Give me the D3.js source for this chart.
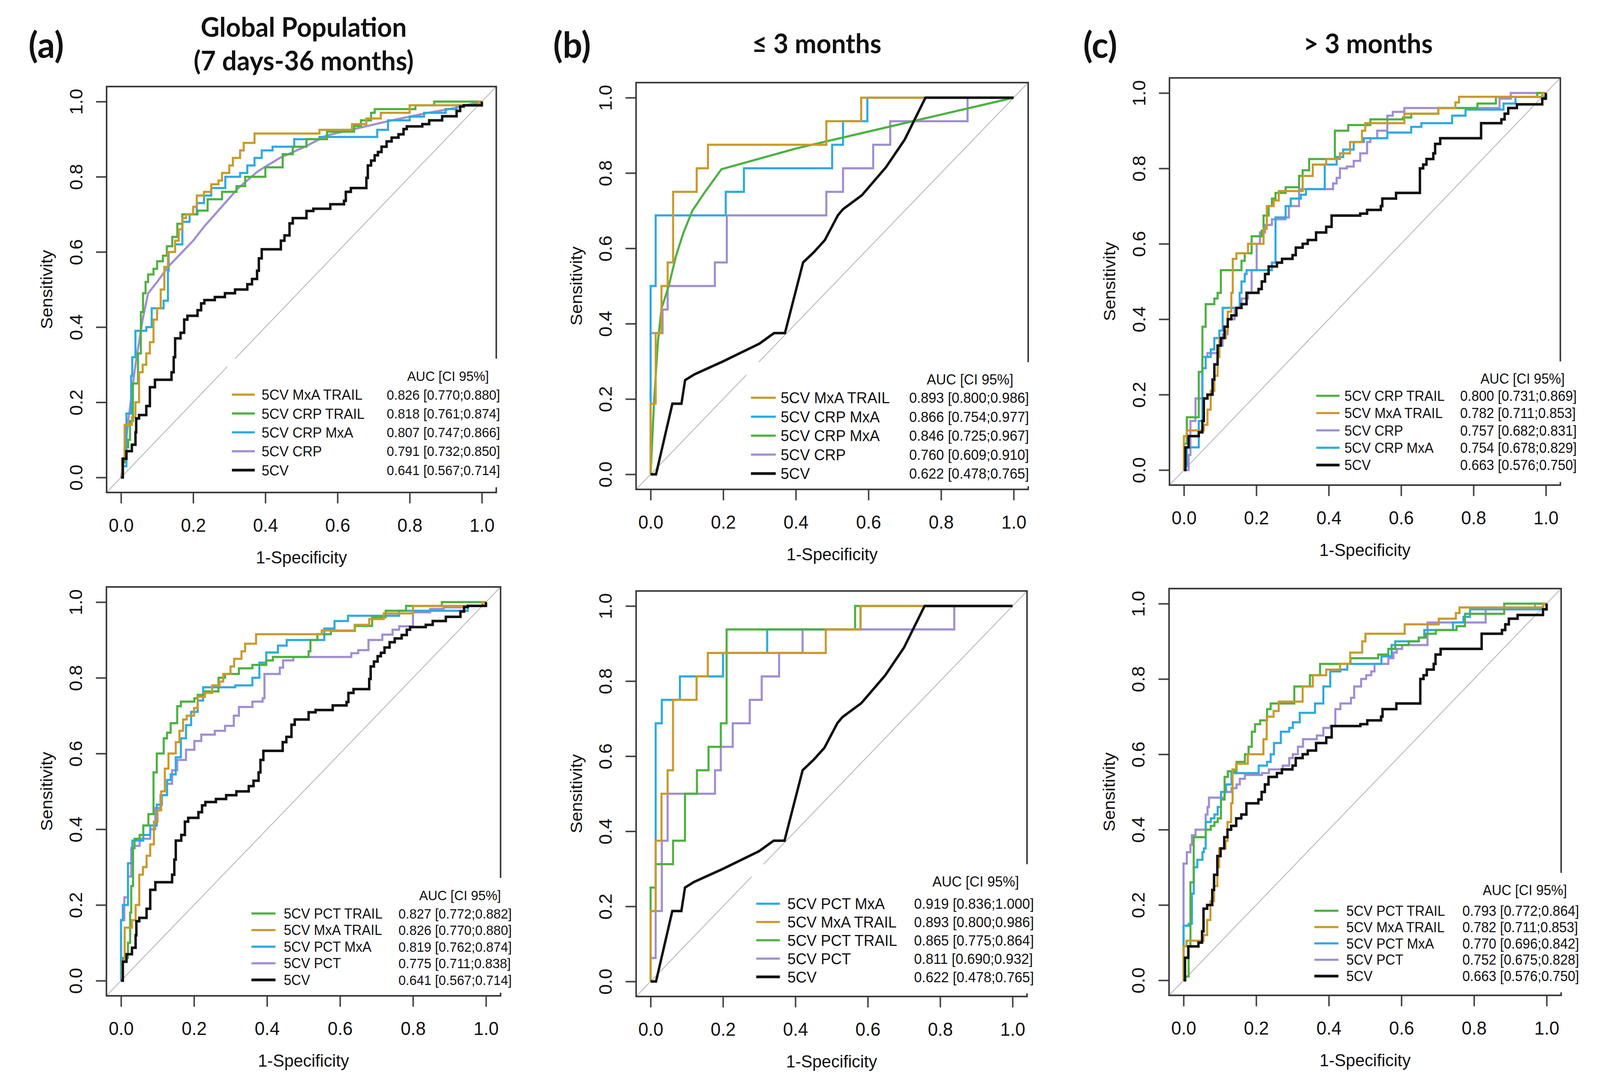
<!DOCTYPE html>
<html>
<head>
<meta charset="utf-8">
<script src="https://cdn.jsdelivr.net/npm/d3@7/dist/d3.min.js"></script>
<style>
  html, body { margin: 0; padding: 0; width: 100%; height: 100%; overflow: hidden; background: #fff; }
  #fig { display: block; width: 100vw; height: 100vh; }
  text { font-family: "Liberation Sans", Arial, sans-serif; fill: #111; }
  .ttl { font-family: Lato, "Open Sans", sans-serif; font-weight: 700; }
</style>
</head>
<body>
<svg id="fig" viewBox="0 0 4257 2777" preserveAspectRatio="none"></svg>
<script>
// ---- axis ticks ----
var ticks = [0, 0.2, 0.4, 0.6, 0.8, 1.0];
var tickLabels = ["0.0", "0.2", "0.4", "0.6", "0.8", "1.0"];

// ---- column (a): global population, [1-specificity, sensitivity] ----
var aGold = [[0,0],[0.003,0.05],[0.01,0.14],[0.03,0.16],[0.04,0.2],[0.05,0.28],[0.06,0.3],[0.07,0.33],[0.08,0.36],[0.09,0.42],[0.1,0.45],[0.11,0.5],[0.12,0.56],[0.13,0.6],[0.15,0.63],[0.16,0.66],[0.17,0.69],[0.18,0.7],[0.2,0.72],[0.21,0.75],[0.23,0.76],[0.25,0.78],[0.27,0.79],[0.28,0.81],[0.3,0.83],[0.31,0.85],[0.33,0.87],[0.34,0.89],[0.37,0.915],[0.55,0.925],[0.64,0.94],[0.68,0.955],[0.72,0.97],[0.8,0.99],[0.99,1],[1,1]];
var aBlack = [[0,0],[0.005,0.05],[0.015,0.07],[0.03,0.087],[0.04,0.12],[0.042,0.157],[0.05,0.166],[0.07,0.19],[0.08,0.24],[0.094,0.26],[0.14,0.28],[0.146,0.32],[0.15,0.37],[0.165,0.385],[0.175,0.42],[0.184,0.43],[0.212,0.445],[0.222,0.463],[0.231,0.472],[0.26,0.48],[0.288,0.49],[0.316,0.5],[0.35,0.514],[0.363,0.528],[0.377,0.55],[0.382,0.583],[0.39,0.607],[0.443,0.63],[0.453,0.644],[0.467,0.676],[0.476,0.69],[0.514,0.709],[0.533,0.715],[0.58,0.727],[0.618,0.736],[0.623,0.76],[0.637,0.77],[0.68,0.797],[0.684,0.83],[0.693,0.843],[0.703,0.857],[0.712,0.866],[0.722,0.88],[0.736,0.894],[0.75,0.904],[0.769,0.913],[0.783,0.927],[0.792,0.934],[0.835,0.94],[0.854,0.95],[0.89,0.961],[0.93,0.975],[0.94,0.987],[0.95,0.99],[1,1]];
var aTopGreen = [[0,0],[0.005,0.04],[0.01,0.08],[0.02,0.1],[0.025,0.15],[0.033,0.25],[0.047,0.33],[0.055,0.44],[0.061,0.49],[0.068,0.52],[0.075,0.54],[0.09,0.555],[0.1,0.575],[0.116,0.59],[0.127,0.615],[0.142,0.64],[0.156,0.675],[0.17,0.7],[0.212,0.71],[0.24,0.74],[0.28,0.76],[0.32,0.775],[0.344,0.8],[0.4,0.825],[0.448,0.86],[0.476,0.88],[0.514,0.9],[0.571,0.92],[0.646,0.935],[0.665,0.95],[0.693,0.97],[0.703,0.98],[0.816,0.99],[0.868,1],[1,1]];
var aTopBlue = [[0,0],[0.005,0.03],[0.015,0.17],[0.028,0.27],[0.031,0.32],[0.04,0.39],[0.07,0.4],[0.085,0.45],[0.118,0.47],[0.13,0.55],[0.132,0.6],[0.15,0.62],[0.17,0.68],[0.19,0.7],[0.21,0.73],[0.23,0.75],[0.25,0.77],[0.289,0.8],[0.33,0.81],[0.35,0.83],[0.37,0.85],[0.39,0.87],[0.42,0.88],[0.48,0.9],[0.55,0.906],[0.71,0.925],[0.74,0.95],[0.8,0.96],[0.84,0.97],[0.9,0.98],[0.93,0.99],[1,1]];
var aTopPurple = [[0,0],[0.01,0.06],[0.02,0.15],[0.04,0.3],[0.06,0.42],[0.075,0.49],[0.1,0.52],[0.13,0.56],[0.2,0.63],[0.23,0.667],[0.325,0.77],[0.38,0.815],[0.44,0.85],[0.51,0.88],[0.57,0.91],[0.66,0.93],[0.75,0.95],[0.84,0.968],[0.92,0.982],[1,1]];
var aBotGreen = [[0,0],[0.005,0.06],[0.019,0.1],[0.025,0.18],[0.028,0.25],[0.033,0.35],[0.037,0.375],[0.051,0.385],[0.061,0.41],[0.075,0.44],[0.089,0.55],[0.098,0.6],[0.117,0.64],[0.126,0.655],[0.136,0.68],[0.154,0.725],[0.164,0.737],[0.201,0.746],[0.21,0.755],[0.229,0.764],[0.267,0.8],[0.285,0.81],[0.323,0.825],[0.36,0.834],[0.398,0.846],[0.416,0.855],[0.514,0.87],[0.519,0.9],[0.538,0.915],[0.575,0.924],[0.641,0.937],[0.688,0.96],[0.725,0.977],[0.781,0.99],[0.879,1],[1,1]];
var aBotBlue = [[0,0],[0,0.16],[0.005,0.2],[0.019,0.31],[0.031,0.37],[0.061,0.385],[0.08,0.41],[0.098,0.465],[0.112,0.49],[0.126,0.53],[0.136,0.545],[0.15,0.59],[0.164,0.64],[0.178,0.675],[0.192,0.71],[0.21,0.74],[0.225,0.775],[0.313,0.78],[0.36,0.8],[0.379,0.84],[0.398,0.867],[0.43,0.885],[0.454,0.9],[0.557,0.93],[0.585,0.95],[0.622,0.964],[0.762,0.977],[0.95,0.99],[1,1]];
var aBotPurple = [[0,0],[0,0.16],[0.009,0.22],[0.019,0.275],[0.028,0.35],[0.037,0.356],[0.051,0.375],[0.08,0.4],[0.094,0.456],[0.108,0.49],[0.126,0.52],[0.14,0.556],[0.154,0.583],[0.178,0.61],[0.201,0.633],[0.22,0.65],[0.257,0.66],[0.285,0.673],[0.309,0.7],[0.323,0.723],[0.36,0.737],[0.388,0.746],[0.393,0.81],[0.435,0.827],[0.444,0.846],[0.472,0.855],[0.631,0.865],[0.65,0.873],[0.678,0.9],[0.716,0.914],[0.744,0.927],[0.762,0.936],[0.8,0.973],[0.847,0.982],[0.884,0.986],[0.95,0.99],[1,1]];

// ---- column (b): <= 3 months ----
var bGold = [[0,0],[0,0.1875],[0.014,0.375],[0.03,0.5],[0.047,0.5625],[0.062,0.75],[0.127,0.8125],[0.158,0.875],[0.484,0.9375],[0.58,1],[1,1]];
var bBlack = [[0,0],[0.015,0],[0.06,0.1875],[0.085,0.1875],[0.095,0.25],[0.12,0.265],[0.2,0.3],[0.3,0.347],[0.34,0.375],[0.37,0.375],[0.42,0.5625],[0.45,0.59],[0.48,0.622],[0.516,0.688],[0.53,0.704],[0.582,0.741],[0.648,0.815],[0.7,0.889],[0.757,1],[1,1]];
var bTopBlue = [[0,0],[0,0.5],[0.014,0.6875],[0.207,0.75],[0.257,0.8125],[0.5,0.875],[0.53,0.9375],[0.597,1],[1,1]];
var bTopGreen = [[0,0],[0.01,0.2],[0.02,0.35],[0.03,0.44],[0.05,0.5],[0.07,0.58],[0.09,0.64],[0.115,0.7],[0.15,0.75],[0.195,0.81],[0.4,0.865],[0.6,0.91],[0.8,0.955],[1,1]];
var bTopPurple = [[0,0],[0,0.375],[0.033,0.4375],[0.047,0.5],[0.177,0.5625],[0.21,0.6875],[0.484,0.75],[0.53,0.8125],[0.613,0.875],[0.66,0.9375],[0.873,1],[1,1]];
var bBotBlue = [[0,0],[0,0.1875],[0.014,0.6875],[0.031,0.75],[0.081,0.8125],[0.2,0.875],[0.322,0.9375],[0.58,1],[1,1]];
var bBotGreen = [[0,0],[0,0.25],[0.014,0.3125],[0.062,0.375],[0.095,0.5],[0.128,0.5625],[0.16,0.625],[0.194,0.6875],[0.21,0.9375],[0.565,1],[1,1]];
var bBotPurple = [[0,0],[0,0.0625],[0.014,0.1875],[0.031,0.375],[0.047,0.5],[0.178,0.5625],[0.194,0.625],[0.227,0.6875],[0.274,0.75],[0.307,0.8125],[0.355,0.875],[0.42,0.9375],[0.839,1],[1,1]];

// ---- column (c): > 3 months ----
var cGold = [[0,0],[0,0.09],[0.008,0.105],[0.055,0.12],[0.065,0.16],[0.074,0.21],[0.084,0.25],[0.093,0.3],[0.098,0.35],[0.116,0.37],[0.121,0.42],[0.131,0.47],[0.135,0.56],[0.145,0.575],[0.177,0.6],[0.22,0.64],[0.229,0.7],[0.248,0.715],[0.262,0.74],[0.328,0.78],[0.356,0.81],[0.393,0.825],[0.431,0.84],[0.459,0.87],[0.492,0.9],[0.501,0.92],[0.609,0.945],[0.703,0.96],[0.75,0.975],[0.76,0.99],[0.99,1],[1,1]];
var cBlack = [[0,0],[0.004,0.06],[0.013,0.09],[0.041,0.1],[0.051,0.13],[0.055,0.19],[0.065,0.2],[0.079,0.24],[0.084,0.28],[0.093,0.33],[0.102,0.35],[0.112,0.38],[0.121,0.4],[0.131,0.41],[0.145,0.43],[0.159,0.44],[0.173,0.47],[0.206,0.48],[0.215,0.5],[0.224,0.52],[0.234,0.54],[0.257,0.55],[0.271,0.56],[0.3,0.57],[0.309,0.59],[0.328,0.6],[0.342,0.61],[0.365,0.63],[0.393,0.645],[0.408,0.675],[0.487,0.68],[0.506,0.69],[0.544,0.7],[0.548,0.72],[0.586,0.735],[0.652,0.8],[0.661,0.81],[0.67,0.825],[0.689,0.84],[0.694,0.865],[0.708,0.88],[0.821,0.92],[0.877,0.93],[0.886,0.945],[0.896,0.96],[0.92,0.97],[0.99,0.985],[1,1]];
var cTopGreen = [[0,0],[0,0.07],[0.008,0.14],[0.041,0.26],[0.051,0.38],[0.06,0.44],[0.084,0.455],[0.093,0.47],[0.102,0.53],[0.159,0.555],[0.168,0.575],[0.187,0.62],[0.215,0.635],[0.22,0.675],[0.234,0.7],[0.243,0.72],[0.253,0.735],[0.281,0.75],[0.318,0.78],[0.328,0.795],[0.346,0.825],[0.417,0.9],[0.454,0.915],[0.515,0.93],[0.605,0.935],[0.628,0.945],[0.703,0.96],[0.811,0.972],[0.862,0.99],[0.976,1],[1,1]];
var cTopPurple = [[0,0],[0.013,0.04],[0.018,0.13],[0.032,0.19],[0.051,0.3],[0.065,0.31],[0.093,0.33],[0.107,0.36],[0.121,0.4],[0.14,0.43],[0.159,0.455],[0.177,0.47],[0.187,0.53],[0.201,0.6],[0.21,0.63],[0.224,0.65],[0.243,0.665],[0.281,0.67],[0.29,0.7],[0.318,0.745],[0.412,0.76],[0.422,0.775],[0.431,0.8],[0.45,0.805],[0.469,0.82],[0.487,0.84],[0.506,0.87],[0.515,0.88],[0.534,0.9],[0.562,0.94],[0.577,0.95],[0.609,0.96],[0.872,0.985],[0.903,1],[1,1]];
var cTopBlue = [[0,0],[0.004,0.01],[0.008,0.06],[0.041,0.13],[0.051,0.27],[0.06,0.3],[0.074,0.32],[0.084,0.35],[0.098,0.37],[0.107,0.43],[0.154,0.47],[0.159,0.5],[0.168,0.52],[0.173,0.53],[0.243,0.55],[0.253,0.67],[0.281,0.7],[0.295,0.72],[0.323,0.73],[0.337,0.745],[0.389,0.81],[0.422,0.83],[0.44,0.85],[0.469,0.87],[0.497,0.88],[0.562,0.895],[0.628,0.91],[0.656,0.92],[0.741,0.94],[0.778,0.956],[0.883,0.972],[0.916,0.99],[1,1]];
var cBotGreen = [[0,0],[0.005,0.01],[0.014,0.09],[0.019,0.26],[0.028,0.38],[0.061,0.4],[0.075,0.41],[0.085,0.42],[0.094,0.43],[0.103,0.48],[0.113,0.54],[0.122,0.555],[0.146,0.58],[0.169,0.6],[0.179,0.62],[0.188,0.66],[0.197,0.68],[0.211,0.69],[0.23,0.72],[0.24,0.735],[0.305,0.78],[0.348,0.81],[0.376,0.84],[0.46,0.855],[0.536,0.865],[0.564,0.88],[0.583,0.89],[0.62,0.9],[0.648,0.91],[0.667,0.92],[0.695,0.93],[0.752,0.94],[0.775,0.973],[0.883,1],[1,1]];
var cBotBlue = [[0,0],[0,0.145],[0.014,0.15],[0.023,0.23],[0.028,0.3],[0.038,0.32],[0.052,0.34],[0.056,0.35],[0.061,0.42],[0.075,0.43],[0.085,0.44],[0.094,0.46],[0.103,0.5],[0.117,0.52],[0.132,0.55],[0.207,0.57],[0.23,0.58],[0.24,0.6],[0.249,0.63],[0.268,0.66],[0.291,0.67],[0.301,0.685],[0.32,0.71],[0.362,0.735],[0.385,0.78],[0.404,0.82],[0.432,0.825],[0.451,0.84],[0.545,0.86],[0.573,0.89],[0.583,0.9],[0.648,0.91],[0.663,0.93],[0.742,0.95],[0.771,0.965],[0.789,0.985],[0.99,1],[1,1]];
var cBotPurple = [[0,0],[0,0.31],[0.009,0.34],[0.019,0.36],[0.023,0.385],[0.033,0.4],[0.061,0.44],[0.066,0.46],[0.07,0.485],[0.113,0.5],[0.132,0.51],[0.146,0.52],[0.155,0.535],[0.169,0.545],[0.216,0.55],[0.235,0.56],[0.273,0.57],[0.291,0.59],[0.301,0.6],[0.315,0.62],[0.329,0.64],[0.367,0.65],[0.385,0.67],[0.404,0.675],[0.418,0.72],[0.432,0.735],[0.461,0.75],[0.47,0.78],[0.489,0.8],[0.503,0.81],[0.517,0.82],[0.526,0.84],[0.564,0.855],[0.578,0.87],[0.587,0.88],[0.602,0.89],[0.672,0.95],[0.832,0.985],[0.968,1],[1,1]];

// ---- legend texts (in legend order) ----
var aTopLabels = ["5CV MxA TRAIL", "5CV CRP TRAIL", "5CV CRP MxA", "5CV CRP", "5CV"];
var aTopAuc = ["0.826 [0.770;0.880]", "0.818 [0.761;0.874]", "0.807 [0.747;0.866]", "0.791 [0.732;0.850]", "0.641 [0.567;0.714]"];
var aBotLabels = ["5CV PCT TRAIL", "5CV MxA TRAIL", "5CV PCT MxA", "5CV PCT", "5CV"];
var aBotAuc = ["0.827 [0.772;0.882]", "0.826 [0.770;0.880]", "0.819 [0.762;0.874]", "0.775 [0.711;0.838]", "0.641 [0.567;0.714]"];
var bTopLabels = ["5CV MxA TRAIL", "5CV CRP MxA", "5CV CRP MxA", "5CV CRP", "5CV"];
var bTopAuc = ["0.893 [0.800;0.986]", "0.866 [0.754;0.977]", "0.846 [0.725;0.967]", "0.760 [0.609;0.910]", "0.622 [0.478;0.765]"];
var bBotLabels = ["5CV PCT MxA", "5CV MxA TRAIL", "5CV PCT TRAIL", "5CV PCT", "5CV"];
var bBotAuc = ["0.919 [0.836;1.000]", "0.893 [0.800;0.986]", "0.865 [0.775;0.864]", "0.811 [0.690;0.932]", "0.622 [0.478;0.765]"];
var cTopLabels = ["5CV CRP TRAIL", "5CV MxA TRAIL", "5CV CRP", "5CV CRP MxA", "5CV"];
var cTopAuc = ["0.800 [0.731;0.869]", "0.782 [0.711;0.853]", "0.757 [0.682;0.831]", "0.754 [0.678;0.829]", "0.663 [0.576;0.750]"];
var cBotLabels = ["5CV PCT TRAIL", "5CV MxA TRAIL", "5CV PCT MxA", "5CV PCT", "5CV"];
var cBotAuc = ["0.793 [0.772;0.864]", "0.782 [0.711;0.853]", "0.770 [0.696;0.842]", "0.752 [0.675;0.828]", "0.663 [0.576;0.750]"];

// colours
var col = { gold: "#C99A2C", green: "#4CB140", blue: "#2EAAE1", purple: "#A08ED3", black: "#111111" };
var drawOrder = ["purple", "blue", "green", "gold", "black"];

// panels: layout + which series go where
var panels = [
  { x0: 322, x1: 1282, y0: 1222, y1: 260,
    keys: ["gold", "green", "blue", "purple", "black"], data: [aGold, aTopGreen, aTopBlue, aTopPurple, aBlack],
    smooth: ["purple"], labels: aTopLabels, auc: aTopAuc,
    leg: { l0: 617, l1: 678, tx: 696, vx: 1029, hx: 1192, hy: 962, r0: 1010, step: 48.3, fs: 37, vfs: 35 } },
  { x0: 322, x1: 1293, y0: 2510, y1: 1541,
    keys: ["green", "gold", "blue", "purple", "black"], data: [aBotGreen, aGold, aBotBlue, aBotPurple, aBlack],
    smooth: [], labels: aBotLabels, auc: aBotAuc,
    leg: { l0: 669, l1: 733, tx: 755, vx: 1060, hx: 1224, hy: 2291, r0: 2338, step: 42.5, fs: 36, vfs: 35 } },
  { x0: 1731, x1: 2697, y0: 1214, y1: 250,
    keys: ["gold", "blue", "green", "purple", "black"], data: [bGold, bTopBlue, bTopGreen, bTopPurple, bBlack],
    smooth: ["green", "black"], labels: bTopLabels, auc: bTopAuc,
    leg: { l0: 1998, l1: 2064, tx: 2077, vx: 2419, hx: 2581, hy: 971, r0: 1018, step: 48.5, fs: 40, vfs: 37 } },
  { x0: 1731, x1: 2694, y0: 2512, y1: 1551,
    keys: ["blue", "gold", "green", "purple", "black"], data: [bBotBlue, bGold, bBotGreen, bBotPurple, bBlack],
    smooth: ["black"], labels: bBotLabels, auc: bBotAuc,
    leg: { l0: 2012, l1: 2075, tx: 2095, vx: 2432, hx: 2596, hy: 2256, r0: 2313, step: 46.8, fs: 40, vfs: 37 } },
  { x0: 3150, x1: 4113, y0: 1203, y1: 238,
    keys: ["green", "gold", "purple", "blue", "black"], data: [cTopGreen, cGold, cTopPurple, cTopBlue, cBlack],
    smooth: [], labels: cTopLabels, auc: cTopAuc,
    leg: { l0: 3502, l1: 3564, tx: 3577, vx: 3885, hx: 4051, hy: 969, r0: 1013, step: 44.3, fs: 36, vfs: 36 } },
  { x0: 3149, x1: 4115, y0: 2509, y1: 1545,
    keys: ["green", "gold", "blue", "purple", "black"], data: [cBotGreen, cGold, cBotBlue, cBotPurple, cBlack],
    smooth: [], labels: cBotLabels, auc: cBotAuc,
    leg: { l0: 3497, l1: 3561, tx: 3582, vx: 3891, hx: 4057, hy: 2278, r0: 2331, step: 41.8, fs: 36, vfs: 36 } }
];

var svg = d3.select("#fig");
svg.append("rect").attr("width", 4257).attr("height", 2777).attr("fill", "#fff");

function drawPanel(p) {
  var x = d3.scaleLinear().domain([0, 1]).range([p.x0, p.x1]);
  var y = d3.scaleLinear().domain([0, 1]).range([p.y0, p.y1]);
  var g = svg.append("g");

  // reference diagonal across the whole plot region
  g.append("line")
    .attr("x1", x(-0.04)).attr("y1", y(-0.04))
    .attr("x2", x(1.04)).attr("y2", y(1.04))
    .attr("stroke", "#bdbdbd").attr("stroke-width", 2.5);

  // curves
  drawOrder.forEach(function(k) {
    var i = p.keys.indexOf(k);
    var line = d3.line()
      .x(function(d) { return x(d[0]); })
      .y(function(d) { return y(d[1]); })
      .curve(p.smooth.indexOf(k) >= 0 ? d3.curveLinear : d3.curveStepAfter);
    g.append("path")
      .datum(p.data[i])
      .attr("d", line)
      .attr("fill", "none")
      .attr("stroke", col[k])
      .attr("stroke-width", k == "black" ? 6.5 : 5.5)
      .attr("stroke-linejoin", "miter");
  });

  // axes
  var xAxis = d3.axisBottom(x).tickValues(ticks).tickSize(28).tickSizeOuter(0)
    .tickFormat(function(d, i) { return tickLabels[i]; });
  var gx = g.append("g").attr("transform", "translate(0," + y(-0.04) + ")").call(xAxis);
  gx.select(".domain").remove();
  gx.selectAll(".tick line").attr("stroke", "#444").attr("stroke-width", 4);
  gx.selectAll(".tick text").attr("y", 83).attr("dy", "0.36em")
    .attr("font-size", 48).attr("fill", "#111")
    .attr("font-family", "Liberation Sans, Arial, sans-serif");

  var yAxis = d3.axisLeft(y).tickValues(ticks).tickSize(28).tickSizeOuter(0)
    .tickFormat(function(d, i) { return tickLabels[i]; });
  var gy = g.append("g").attr("transform", "translate(" + x(-0.04) + ",0)").call(yAxis);
  gy.select(".domain").remove();
  gy.selectAll(".tick line").attr("stroke", "#444").attr("stroke-width", 4);
  gy.selectAll(".tick text")
    .attr("x", null).attr("dy", "0.36em")
    .attr("transform", "translate(-82,0) rotate(-90)")
    .attr("text-anchor", "middle")
    .attr("font-size", 48).attr("fill", "#111")
    .attr("font-family", "Liberation Sans, Arial, sans-serif");

  // plot box
  g.append("rect")
    .attr("x", x(-0.04)).attr("y", y(1.04))
    .attr("width", x(1.04) - x(-0.04)).attr("height", y(-0.04) - y(1.04))
    .attr("fill", "none").attr("stroke", "#333").attr("stroke-width", 4);

  // axis titles
  g.append("text")
    .attr("x", (p.x0 + p.x1) / 2).attr("y", p.y0 + 204).attr("dy", "0.36em")
    .attr("text-anchor", "middle").attr("font-size", 45)
    .text("1-Specificity");
  g.append("text")
    .attr("transform", "translate(" + (p.x0 - 199) + "," + ((p.y0 + p.y1) / 2) + ") rotate(-90)")
    .attr("dy", "0.36em")
    .attr("text-anchor", "middle").attr("font-size", 45)
    .text("Sensitivity");

  // legend (white background hides the diagonal and box edge)
  var L = p.leg;
  var bTop = L.hy - 44;
  var bBot = Math.min(L.r0 + 4 * L.step + 44, y(-0.04) - 8);
  g.append("rect")
    .attr("x", L.l0 - 12).attr("y", bTop)
    .attr("width", Math.max(L.vx + 320, x(1.04) + 12) - (L.l0 - 12))
    .attr("height", bBot - bTop)
    .attr("fill", "#fff");
  g.append("text")
    .attr("x", L.hx).attr("y", L.hy).attr("dy", "0.36em")
    .attr("text-anchor", "middle").attr("font-size", L.vfs)
    .text("AUC [CI 95%]");
  p.keys.forEach(function(k, i) {
    var ry = L.r0 + i * L.step;
    g.append("line")
      .attr("x1", L.l0).attr("x2", L.l1).attr("y1", ry).attr("y2", ry)
      .attr("stroke", col[k]).attr("stroke-width", k == "black" ? 7 : 5.5);
    g.append("text").attr("x", L.tx).attr("y", ry).attr("dy", "0.36em")
      .attr("font-size", L.fs).text(p.labels[i]);
    g.append("text").attr("x", L.vx).attr("y", ry).attr("dy", "0.36em")
      .attr("font-size", L.vfs).text(p.auc[i]);
  });
}

panels.forEach(drawPanel);

// panel letters and column titles
var letters = [["(a)", 76], ["(b)", 1472], ["(c)", 2882]];
letters.forEach(function(l) {
  svg.append("text").attr("class", "ttl").attr("x", l[1]).attr("y", 148)
    .attr("font-size", 92).text(l[0]);
});
var titles = [["Global Population", 808, 94], ["(7 days-36 months)", 808, 180],
              ["\u2264 3 months", 2173, 136], ["> 3 months", 3640, 136]];
titles.forEach(function(t) {
  svg.append("text").attr("class", "ttl").attr("x", t[1]).attr("y", t[2])
    .attr("text-anchor", "middle").attr("font-size", 69).text(t[0]);
});
</script>
</body>
</html>
